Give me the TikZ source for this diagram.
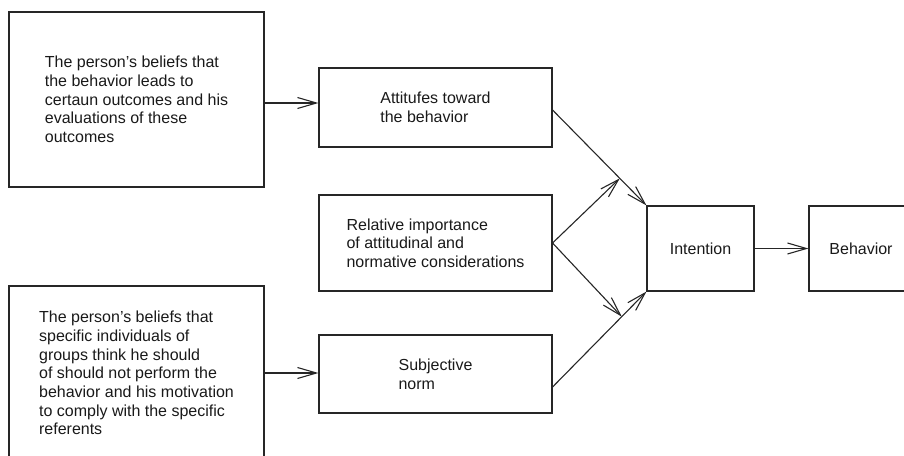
\documentclass[tikz,border=0pt]{standalone}
\usepackage{fontspec}
\setmainfont{Liberation Sans}
\usetikzlibrary{arrows.meta,calc}

\begin{document}
\begin{tikzpicture}[x=1pt,y=-1pt,
  box/.style={draw=black!85, line width=1.1pt, rectangle, inner sep=0pt,
    align=left, text=black!90,
    font=\fontsize{16}{18.7}\selectfont},
  arr/.style={draw=black!85, line width=1.1pt,
    -{Straight Barb[length=19pt,width=11pt,line width=1.1pt]}}]

\useasboundingbox (0,0) rectangle (904,455);
\clip (0,0) rectangle (904,455);

% belief boxes on the left
\node[box, minimum width=255pt, minimum height=175pt] (A) at (136.5,99.5)
  {The person’s beliefs that\\the behavior leads to\\certaun outcomes and his\\evaluations of these\\outcomes};
\node[box, minimum width=255pt, minimum height=174pt] (E) at (136.5,373)
  {The person’s beliefs that\\specific individuals of\\groups think he should\\of should not perform the\\behavior and his motivation\\to comply with the specific\\referents};

% middle column
\node[box, minimum width=233pt, minimum height=79pt] (B) at (435.5,107.5)
  {Attitufes toward\\the behavior};
\node[box, minimum width=233pt, minimum height=96pt] (C) at (435.5,243)
  {Relative importance\\of attitudinal and\\normative considerations};
\node[box, minimum width=233pt, minimum height=78pt] (D) at (435.5,374)
  {Subjective\\norm};

% right column
\node[box, minimum width=107pt, minimum height=85pt] (I) at (700.5,248.5) {Intention};
\node[box, minimum width=104pt, minimum height=85pt] (H) at (861,248.5) {Behavior};

% horizontal connectors
\coordinate (a1) at ([yshift=-3.5pt]A.east);
\draw[arr] (a1) -- (a1 -| B.west);
\draw[arr] (E.east) -- (E.east -| D.west);
\draw[arr] (I.east) -- (I.east -| H.west);

% converging connectors into Intention
\coordinate (b1) at ([yshift=-2.5pt]B.east);
\coordinate (d1) at ([yshift=-13pt]D.east);
\draw[arr] (b1) -- (I.north west);
\draw[arr] (d1) -- (I.south west);
\coordinate (m1) at ($(b1)!0.716!(I.north west)$);
\coordinate (m2) at ($(d1)!0.737!(I.south west)$);
\draw[arr] (C.east) -- (m1);
\draw[arr] (C.east) -- (m2);
\end{tikzpicture}
\end{document}
